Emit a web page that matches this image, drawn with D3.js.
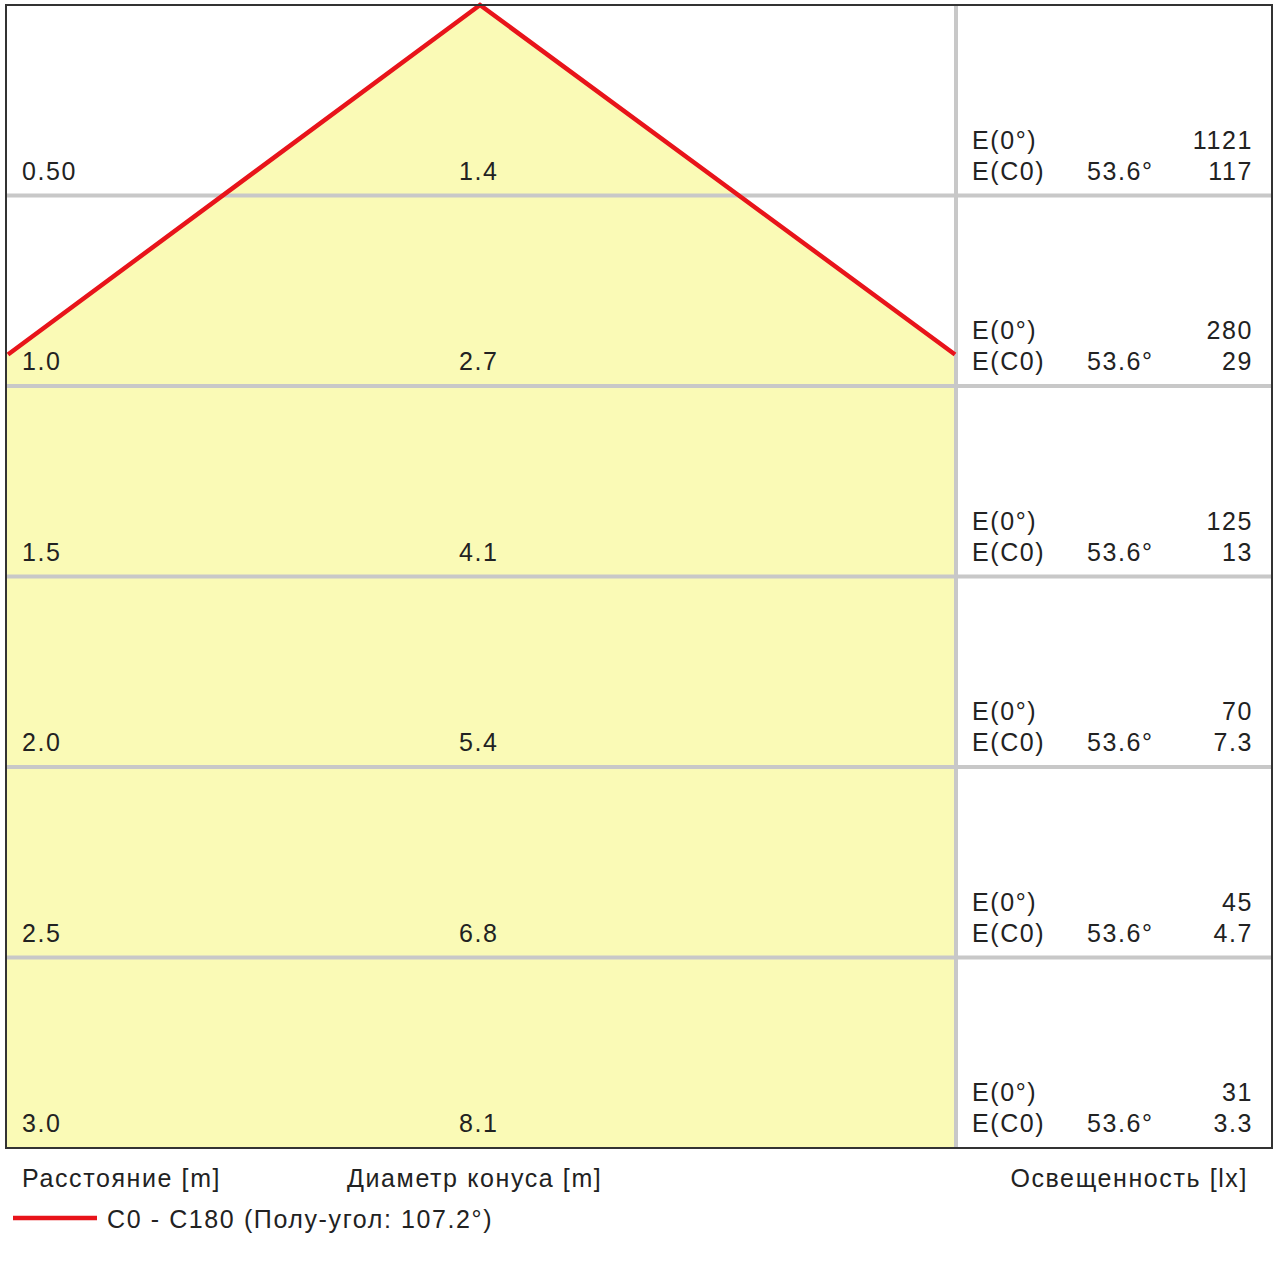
<!DOCTYPE html>
<html><head><meta charset="utf-8">
<script src="https://cdn.jsdelivr.net/npm/d3@7"></script>
<style>body{margin:0;background:#fff}text{font-family:"Liberation Sans",Arial,sans-serif;fill:#222;letter-spacing:1.6px}</style>
</head><body><svg id="c" width="1280" height="1280"></svg>
<script>
const distances = [0.5, 1.0, 1.5, 2.0, 2.5, 3.0];
const distLabels = ["0.50", "1.0", "1.5", "2.0", "2.5", "3.0"];
const diameters = ["1.4", "2.7", "4.1", "5.4", "6.8", "8.1"];
const e0 = ["1121", "280", "125", "70", "45", "31"];
const ec0 = ["117", "29", "13", "7.3", "4.7", "3.3"];
const halfAngle = 53.6;

const svg = d3.select('#c');
const L = 6, R = 1272, T = 5, B = 1148, SPLIT = 956;
const y = d3.scaleLinear().domain([0, 3]).range([T, B]);
const pxPerM = (B - T) / 3;
const cx = 480;
const x = d3.scaleLinear().domain([-1, 1]).range([cx - pxPerM, cx + pxPerM]);
const tanA = Math.tan(halfAngle * Math.PI / 180);

// cone reaches panel edge at this distance
const dEdge = (cx - L) / pxPerM / tanA;
const poly = [[x(0), y(0)], [SPLIT - 1, y(dEdge)], [SPLIT - 1, B], [L, B], [L, y(dEdge)]];
svg.append('polygon').attr('points', poly.map(p => p.join(',')).join(' ')).attr('fill', '#fafab6');

// grid
svg.selectAll('line.g').data(distances.slice(0, -1)).join('line')
  .attr('x1', L).attr('x2', R).attr('y1', d => y(d)).attr('y2', d => y(d))
  .attr('stroke', '#c8c8c8').attr('stroke-width', 4);
svg.append('line').attr('x1', SPLIT).attr('x2', SPLIT).attr('y1', T).attr('y2', B)
  .attr('stroke', '#c8c8c8').attr('stroke-width', 4);

// cone line
svg.append('path').attr('d', d3.line()([[L + 2, y(dEdge)], [x(0), y(0)], [SPLIT - 1, y(dEdge)]]))
  .attr('fill', 'none').attr('stroke', '#e8141a').attr('stroke-width', 4.5);

svg.append('rect').attr('x', L).attr('y', T).attr('width', R - L).attr('height', B - T)
  .attr('fill', 'none').attr('stroke', '#333').attr('stroke-width', 2);

const fs = 25;
distances.forEach((d, i) => {
  const yb = y(d);
  const t = (tx, ty, s, anchor) => svg.append('text').attr('x', tx).attr('y', ty)
    .attr('font-size', fs).attr('text-anchor', anchor || 'start').text(s);
  t(22, yb - 16, distLabels[i]);
  t(459, yb - 16, diameters[i]);
  t(972, yb - 47, 'E(0°)');
  t(972, yb - 16, 'E(C0)');
  t(1087, yb - 16, halfAngle.toFixed(1) + '°');
  t(1253, yb - 47, e0[i], 'end');
  t(1253, yb - 16, ec0[i], 'end');
});

svg.append('text').attr('x', 22).attr('y', 1187).attr('font-size', fs).text('Расстояние [m]');
svg.append('text').attr('x', 347).attr('y', 1187).attr('font-size', fs).text('Диаметр конуса [m]');
svg.append('text').attr('x', 1248).attr('y', 1187).attr('font-size', fs).attr('text-anchor', 'end').text('Освещенность [lx]');
svg.append('line').attr('x1', 13).attr('x2', 97).attr('y1', 1218).attr('y2', 1218)
  .attr('stroke', '#e8141a').attr('stroke-width', 4.5);
svg.append('text').attr('x', 107).attr('y', 1228).attr('font-size', fs).text('C0 - C180 (Полу-угол: 107.2°)');
</script></body></html>
